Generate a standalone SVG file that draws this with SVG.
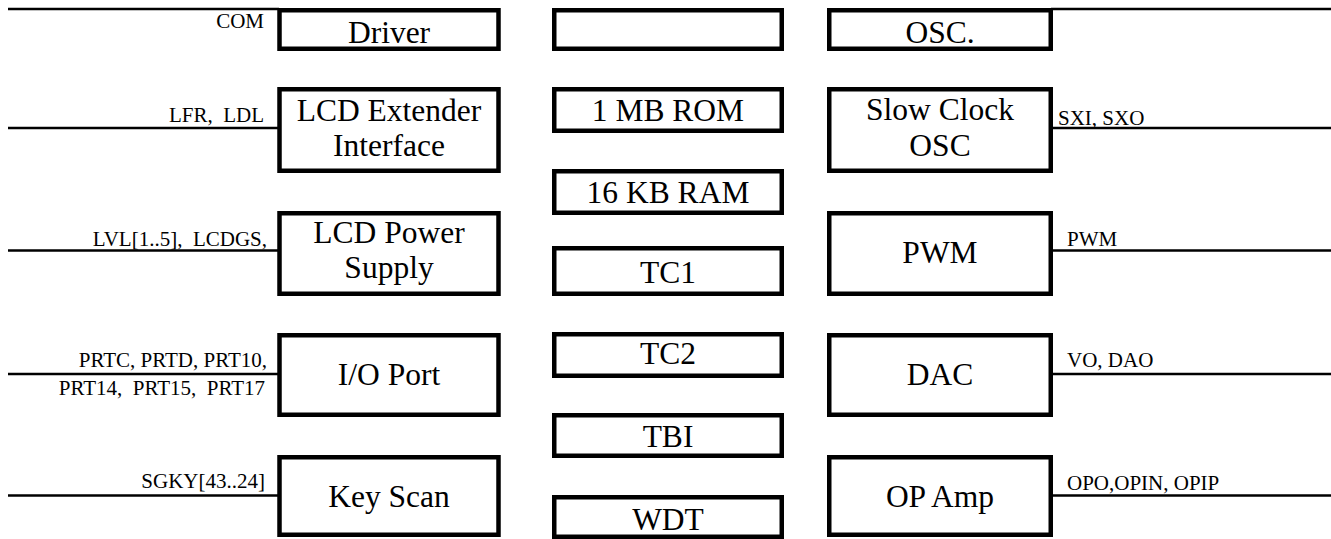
<svg xmlns="http://www.w3.org/2000/svg" width="1331" height="539" viewBox="0 0 1331 539">
<style>
.box{fill:#fff;stroke:#000;stroke-width:4.5}
.wire{stroke:#000;stroke-width:2.5;fill:none}
text{font-family:Liberation Serif, Times New Roman, Times, DejaVu Serif, serif;white-space:pre}
.lbl{font-size:31.5px;fill:#000;text-anchor:middle}
.sig{font-size:21px;fill:#000}
.sl{text-anchor:end}
</style>
<rect width="1331" height="539" fill="#fff"/>
<g id="connectors">
<line class="wire" x1="8" y1="9" x2="279" y2="9"/>
<line class="wire" x1="8" y1="128" x2="279" y2="128"/>
<line class="wire" x1="8" y1="250.5" x2="279" y2="250.5"/>
<line class="wire" x1="8" y1="374" x2="279" y2="374"/>
<line class="wire" x1="8" y1="495.5" x2="279" y2="495.5"/>
<line class="wire" x1="1051" y1="9" x2="1331" y2="9"/>
<line class="wire" x1="1051" y1="128" x2="1331" y2="128"/>
<line class="wire" x1="1051" y1="250.5" x2="1331" y2="250.5"/>
<line class="wire" x1="1051" y1="374" x2="1331" y2="374"/>
<line class="wire" x1="1051" y1="495.5" x2="1331" y2="495.5"/>
<text class="sig sl" x="264" y="28" xml:space="preserve">COM</text>
<text class="sig sl" x="264" y="122" xml:space="preserve">LFR,  LDL</text>
<text class="sig sl" x="267" y="246" xml:space="preserve">LVL[1..5],  LCDGS,</text>
<text class="sig sl" x="267" y="367" xml:space="preserve">PRTC, PRTD, PRT10,</text>
<text class="sig sl" x="265" y="395" xml:space="preserve">PRT14,  PRT15,  PRT17</text>
<text class="sig sl" x="265" y="488" xml:space="preserve">SGKY[43..24]</text>
<text class="sig" x="1058" y="125" xml:space="preserve">SXI, SXO</text>
<text class="sig" x="1067" y="246" xml:space="preserve">PWM</text>
<text class="sig" x="1067" y="367" xml:space="preserve">VO, DAO</text>
<text class="sig" x="1067" y="490" xml:space="preserve">OPO,OPIN, OPIP</text>
</g>
<g id="driver"><rect class="box" x="279.5" y="10.25" width="219" height="38.5"/><text class="lbl" x="389" y="43">Driver</text></g>
<g id="lcd-ext"><rect class="box" x="279.5" y="89.25" width="219" height="81.5"/><text class="lbl" x="389" y="121">LCD Extender</text><text class="lbl" x="389" y="156">Interface</text></g>
<g id="lcd-power"><rect class="box" x="279.5" y="213.25" width="219" height="80.5"/><text class="lbl" x="389" y="243">LCD Power</text><text class="lbl" x="389" y="278">Supply</text></g>
<g id="io-port"><rect class="box" x="279.5" y="335.25" width="219" height="79.5"/><text class="lbl" x="389" y="385">I/O Port</text></g>
<g id="key-scan"><rect class="box" x="279.5" y="457.25" width="219" height="77.5"/><text class="lbl" x="389" y="507">Key Scan</text></g>
<g id="blank"><rect class="box" x="554.25" y="10.25" width="227.5" height="38.5"/></g>
<g id="rom"><rect class="box" x="554.25" y="89.25" width="227.5" height="41.5"/><text class="lbl" x="668" y="121">1 MB ROM</text></g>
<g id="ram"><rect class="box" x="554.25" y="171.25" width="227.5" height="41.5"/><text class="lbl" x="668" y="203">16 KB RAM</text></g>
<g id="tc1"><rect class="box" x="554.25" y="248.25" width="227.5" height="45.5"/><text class="lbl" x="668" y="283">TC1</text></g>
<g id="tc2"><rect class="box" x="554.25" y="334.25" width="227.5" height="41.5"/><text class="lbl" x="668" y="364">TC2</text></g>
<g id="tbi"><rect class="box" x="554.25" y="415.25" width="227.5" height="40.5"/><text class="lbl" x="668" y="447">TBI</text></g>
<g id="wdt"><rect class="box" x="554.25" y="497.25" width="227.5" height="39.5"/><text class="lbl" x="668" y="530">WDT</text></g>
<g id="osc"><rect class="box" x="829.25" y="10.25" width="221.5" height="38.5"/><text class="lbl" x="940" y="43">OSC.</text></g>
<g id="slow-osc"><rect class="box" x="829.25" y="89.25" width="221.5" height="81.5"/><text class="lbl" x="940" y="120">Slow Clock</text><text class="lbl" x="940" y="156">OSC</text></g>
<g id="pwm"><rect class="box" x="829.25" y="213.25" width="221.5" height="80.5"/><text class="lbl" x="940" y="263">PWM</text></g>
<g id="dac"><rect class="box" x="829.25" y="335.25" width="221.5" height="79.5"/><text class="lbl" x="940" y="385">DAC</text></g>
<g id="op-amp"><rect class="box" x="829.25" y="457.25" width="221.5" height="77.5"/><text class="lbl" x="940" y="507">OP Amp</text></g>
</svg>
